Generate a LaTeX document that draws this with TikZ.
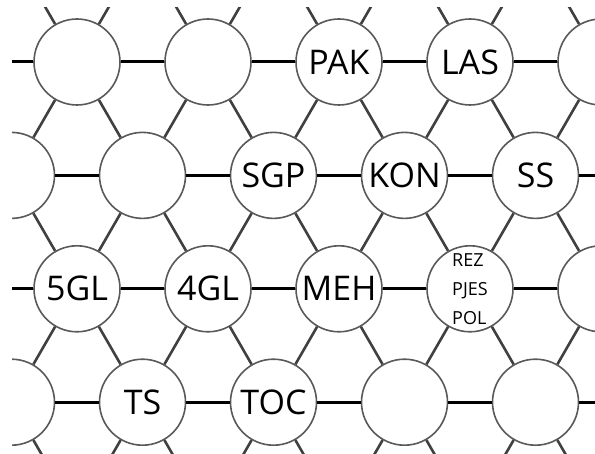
\documentclass[tikz,border=0pt]{standalone}
\usepackage{fontspec}
\setmainfont{Open Sans}
\begin{document}
\begin{tikzpicture}[x=1pt,y=-1pt,
  hub/.style={circle,draw=black!65,line width=1.6pt,fill=white,minimum size=86pt,inner sep=0pt,font=\fontsize{34}{36}\selectfont},
  hline/.style={line width=3pt,black},
  dline/.style={line width=2.6pt,black!75}]
\useasboundingbox (0,0) rectangle (595,454);
\clip (12,8) rectangle (595,454);
% lattice points (rows 0..5, columns 0..7)
\foreach \R in {0,...,5}{
  \foreach \K in {0,...,7}{
    \pgfmathsetmacro{\xx}{mod(\R,2)==1 ? -54+131*\K : -119.5+131*\K}
    \pgfmathsetmacro{\yy}{-51.4+113.4*\R}
    \coordinate (n\R\K) at (\xx,\yy);
  }
}
% visible circles
\node[hub] (n11) at (n11) {};
\node[hub] (n12) at (n12) {};
\node[hub] (n13) at (n13) {PAK};
\node[hub] (n14) at (n14) {LAS};
\node[hub] (n15) at (n15) {};
\node[hub] (n21) at (n21) {};
\node[hub] (n22) at (n22) {};
\node[hub] (n23) at (n23) {SGP};
\node[hub] (n24) at (n24) {KON};
\node[hub] (n25) at (n25) {SS};
\node[hub] (n31) at (n31) {5GL};
\node[hub] (n32) at (n32) {4GL};
\node[hub] (n33) at (n33) {MEH};
\node[hub,align=left,font=\fontsize{18}{29}\selectfont] (n34) at (n34) {REZ\\PJES\\POL};
\node[hub] (n35) at (n35) {};
\node[hub] (n41) at (n41) {};
\node[hub] (n42) at (n42) {TS};
\node[hub] (n43) at (n43) {TOC};
\node[hub] (n44) at (n44) {};
\node[hub] (n45) at (n45) {};
% horizontal connectors
\foreach \R in {1,...,4}{
  \foreach \K [evaluate=\K as \Kn using int(\K+1)] in {0,...,6}{
    \draw[hline] (n\R\K) -- (n\R\Kn);
  }
}
% diagonal connectors
\foreach \R [evaluate=\R as \Rn using int(\R+1)] in {0,2,4}{
  \foreach \K [evaluate=\K as \Km using int(\K-1)] in {1,...,7}{
    \draw[dline] (n\R\K) -- (n\Rn\Km);
    \draw[dline] (n\R\K) -- (n\Rn\K);
  }
}
\foreach \R [evaluate=\R as \Rn using int(\R+1)] in {1,3}{
  \foreach \K [evaluate=\K as \Kp using int(\K+1)] in {0,...,6}{
    \draw[dline] (n\R\K) -- (n\Rn\K);
    \draw[dline] (n\R\K) -- (n\Rn\Kp);
  }
}
\end{tikzpicture}
\end{document}
